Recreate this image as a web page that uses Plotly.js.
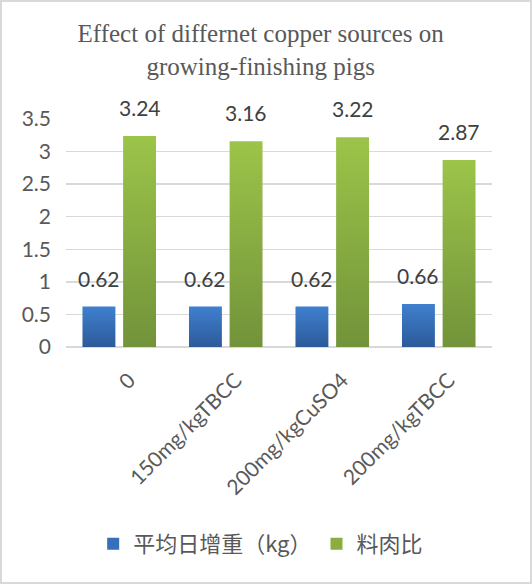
<!DOCTYPE html>
<html>
<head>
<meta charset="utf-8">
<script src="https://cdn.plot.ly/plotly-3.0.1.min.js"></script>
<style>
  body { margin: 0; background: #fff; }
  #wrap { position: relative; width: 532px; height: 584px; }
  #chart { width: 532px; height: 584px; }
  #frame { position: absolute; left: 0; top: 0; width: 532px; height: 584px;
           box-sizing: border-box; border: 2px solid #d9d9d9; pointer-events: none; }
</style>
</head>
<body>
<div id="wrap"><div id="chart"></div><div id="frame"></div></div>
<script>
// data
const groups = ["0", "150mg/kgTBCC", "200mg/kgCuSO4", "200mg/kgTBCC"];
const gainName = "平均日增重（kg）";
const gain = [0.62, 0.62, 0.62, 0.66];
const ratioName = "料肉比";
const ratio = [3.24, 3.16, 3.22, 2.87];

const labelFont = { family: "Lato, 'Open Sans', sans-serif", size: 21, color: "#404040" };

// top / bottom colours of the bar shading
const shades = [["#3f80cf", "#2c5a99"], ["#9cc449", "#72933a"]];

const traces = [
    { type: "bar", name: gainName, x: groups, y: gain,
      marker: { color: "#3670b8" }, hoverinfo: "y" },
    { type: "bar", name: ratioName, x: groups, y: ratio,
      marker: { color: "#89ae3f" }, hoverinfo: "y" }
];

// value labels sit a bit higher than plotly's own outside text, so use annotations
const annotations = [];
[gain, ratio].forEach((vals, si) => {
    vals.forEach((v, i) => {
        annotations.push({
            x: groups[i], y: v, xref: "x", yref: "y",
            text: v.toFixed(2), showarrow: false,
            xshift: si === 0 ? -20.3 : 20.3, yshift: 14,
            yanchor: "bottom", font: labelFont
        });
    });
});

const layout = {
    width: 532, height: 584,
    paper_bgcolor: "#fff", plot_bgcolor: "#fff",
    margin: { l: 66, r: 40, t: 119, b: 237 },
    title: {
        text: "Effect of differnet copper sources on<br>growing-finishing pigs",
        font: { family: "'Liberation Serif', 'Times New Roman', serif", size: 25, color: "#595959" },
        x: 0.49, xref: "container", y: 1 - 42 / 584, yref: "container", yanchor: "middle"
    },
    barmode: "group", bargap: 0.237, bargroupgap: 0.19,
    xaxis: {
        type: "category", tickangle: -45, showgrid: false, showline: false, ticks: "",
        tickfont: { family: "Lato, 'Open Sans', sans-serif", size: 21, color: "#595959" },
        ticklabelstandoff: 16, ticklabelshift: 10
    },
    yaxis: {
        range: [0, 3.5], dtick: 0.5, showgrid: true, gridcolor: "#d9d9d9", gridwidth: 1.5,
        zeroline: true, zerolinecolor: "#d9d9d9", zerolinewidth: 2,
        tickfont: { family: "Lato, 'Open Sans', sans-serif", size: 21, color: "#595959" },
        ticklabelstandoff: 14
    },
    showlegend: true,
    legend: {
        orientation: "h", xref: "container", yref: "container",
        x: 0.49, xanchor: "center", y: 1 - 544 / 584, yanchor: "middle",
        font: { family: "'Noto Sans CJK SC', sans-serif", size: 22, color: "#595959" },
        itemwidth: 30
    },
    annotations: annotations
};

// add vertical gradients to the bars once plotly has drawn them
function shadeBars(gd) {
    const svg = gd.querySelector(".main-svg");
    const ns = "http://www.w3.org/2000/svg";
    let defs = svg.querySelector("defs");
    if (!defs) { defs = document.createElementNS(ns, "defs"); svg.prepend(defs); }
    shades.forEach((c, i) => {
        const g = document.createElementNS(ns, "linearGradient");
        g.setAttribute("id", "barshade" + i);
        g.setAttribute("x1", "0"); g.setAttribute("y1", "0");
        g.setAttribute("x2", "0"); g.setAttribute("y2", "1");
        [[0, c[0]], [1, c[1]]].forEach(([o, col]) => {
            const s = document.createElementNS(ns, "stop");
            s.setAttribute("offset", o);
            s.setAttribute("stop-color", col);
            g.appendChild(s);
        });
        defs.appendChild(g);
    });
    gd.querySelectorAll(".barlayer .trace.bars").forEach((t, i) => {
        t.querySelectorAll("path").forEach(p => { p.style.fill = "url(#barshade" + i + ")"; });
    });
}

Plotly.newPlot("chart", traces, layout, { displayModeBar: false, staticPlot: true })
    .then(shadeBars);
</script>
</body>
</html>
